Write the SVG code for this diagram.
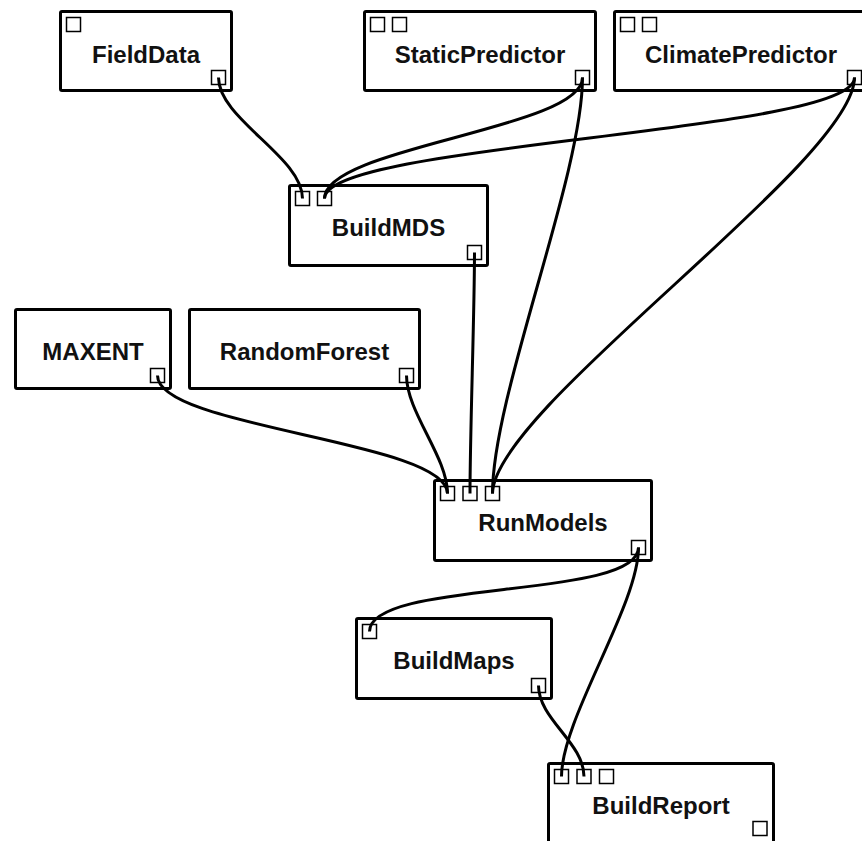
<svg xmlns="http://www.w3.org/2000/svg" width="862" height="841" viewBox="0 0 862 841">
  <style>
    .box { fill: #ffffff; stroke: #000000; stroke-width: 3; stroke-linejoin: round; }
    .port { fill: #ffffff; stroke: #000000; stroke-width: 1.5; }
    .label { font-family: "Liberation Sans", Arial, sans-serif; font-size: 24px; font-weight: bold; fill: #111111; text-anchor: middle; }
    .wire { fill: none; stroke: #000000; stroke-width: 3; }
  </style>
  <rect width="862" height="841" fill="#ffffff"/>

  <!-- modules -->
  <g id="FieldData">
    <rect class="box" x="60.5" y="11.5" width="171" height="79" rx="1.5"/>
    <rect class="port" x="66.5" y="17.5" width="14" height="14"/>
    <rect class="port" x="211.5" y="70.5" width="14" height="14"/>
    <text class="label" x="146" y="63">FieldData</text>
  </g>
  <g id="StaticPredictor">
    <rect class="box" x="364.5" y="11.5" width="231" height="79" rx="1.5"/>
    <rect class="port" x="370.5" y="17.5" width="14" height="14"/>
    <rect class="port" x="392.5" y="17.5" width="14" height="14"/>
    <rect class="port" x="575.5" y="70.5" width="14" height="14"/>
    <text class="label" x="480" y="63">StaticPredictor</text>
  </g>
  <g id="ClimatePredictor">
    <rect class="box" x="614.5" y="11.5" width="253" height="79" rx="1.5"/>
    <rect class="port" x="620.5" y="17.5" width="14" height="14"/>
    <rect class="port" x="642.5" y="17.5" width="14" height="14"/>
    <rect class="port" x="847.5" y="70.5" width="14" height="14"/>
    <text class="label" x="741" y="63">ClimatePredictor</text>
  </g>
  <g id="BuildMDS">
    <rect class="box" x="289.5" y="185.5" width="198" height="80" rx="1.5"/>
    <rect class="port" x="295.5" y="191.5" width="14" height="14"/>
    <rect class="port" x="317.5" y="191.5" width="14" height="14"/>
    <rect class="port" x="467.5" y="245.5" width="14" height="14"/>
    <text class="label" x="388.5" y="236">BuildMDS</text>
  </g>
  <g id="MAXENT">
    <rect class="box" x="15.5" y="309.5" width="155" height="79" rx="1.5"/>
    <rect class="port" x="150.5" y="368.5" width="14" height="14"/>
    <text class="label" x="93" y="360">MAXENT</text>
  </g>
  <g id="RandomForest">
    <rect class="box" x="189.5" y="309.5" width="230" height="79" rx="1.5"/>
    <rect class="port" x="399.5" y="368.5" width="14" height="14"/>
    <text class="label" x="304.5" y="360">RandomForest</text>
  </g>
  <g id="RunModels">
    <rect class="box" x="434.5" y="480.5" width="217" height="80" rx="1.5"/>
    <rect class="port" x="440.5" y="486.5" width="14" height="14"/>
    <rect class="port" x="463" y="486.5" width="14" height="14"/>
    <rect class="port" x="485.5" y="486.5" width="14" height="14"/>
    <rect class="port" x="631.5" y="540.5" width="14" height="14"/>
    <text class="label" x="543" y="531">RunModels</text>
  </g>
  <g id="BuildMaps">
    <rect class="box" x="356.5" y="618.5" width="195" height="80" rx="1.5"/>
    <rect class="port" x="362.5" y="624.5" width="14" height="14"/>
    <rect class="port" x="531.5" y="678.5" width="14" height="14"/>
    <text class="label" x="454" y="669">BuildMaps</text>
  </g>
  <g id="BuildReport">
    <rect class="box" x="548.5" y="763.5" width="225" height="90" rx="1.5"/>
    <rect class="port" x="554.5" y="769.5" width="14" height="14"/>
    <rect class="port" x="577" y="769.5" width="14" height="14"/>
    <rect class="port" x="599.5" y="769.5" width="14" height="14"/>
    <rect class="port" x="753" y="821.5" width="14" height="14"/>
    <text class="label" x="661" y="814">BuildReport</text>
  </g>

  <!-- connections: cubic curves with vertical tangents at both ports, drawn over the ports -->
  <g id="connections">
    <path class="wire" d="M218.5,77.5 C218.5,119.2 302.5,156.8 302.5,198.5"/>
    <path class="wire" d="M582.5,77.5 C582.5,129.2 324.5,146.8 324.5,198.5"/>
    <path class="wire" d="M854.5,77.5 C854.5,133.2 324.5,142.8 324.5,198.5"/>
    <path class="wire" d="M582.5,77.5 C582.5,175.5 492.5,395.5 492.5,493.5"/>
    <path class="wire" d="M854.5,77.5 C854.5,161.5 492.5,409.5 492.5,493.5"/>
    <path class="wire" d="M474.5,252.5 C474.5,312.7 470,433.3 470,493.5"/>
    <path class="wire" d="M157.5,375.5 C157.5,428 447.5,441 447.5,493.5"/>
    <path class="wire" d="M406.5,375.5 C406.5,412.1 447.5,456.9 447.5,493.5"/>
    <path class="wire" d="M638.5,547.5 C638.5,600 369.5,579 369.5,631.5"/>
    <path class="wire" d="M638.5,547.5 C638.5,605.3 561.5,718.7 561.5,776.5"/>
    <path class="wire" d="M538.5,685.5 C538.5,719.2 584,742.8 584,776.5"/>
  </g>
</svg>
